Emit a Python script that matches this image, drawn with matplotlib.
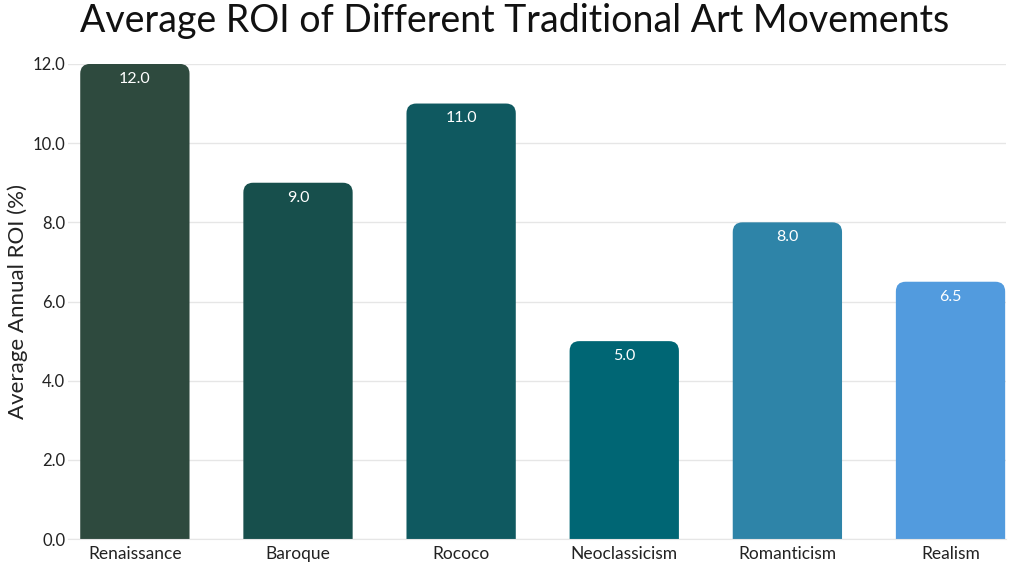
import matplotlib.pyplot as plt
from matplotlib.patches import FancyBboxPatch

plt.rcParams['font.family'] = ['Lato', 'DejaVu Sans']

movements = ["Renaissance", "Baroque", "Rococo", "Neoclassicism", "Romanticism", "Realism"]
roi = [12.0, 9.0, 11.0, 5.0, 8.0, 6.5]
colors = ["#2E4A3E", "#174F4C", "#0F5960", "#006674", "#2E84A8", "#529BDE"]
yticks = [0, 2, 4, 6, 8, 10, 12]

fig = plt.figure(figsize=(10.24, 5.76), dpi=100)
ax = fig.add_axes([0.0664, 0.064, 0.916, 0.825])

bars = ax.bar(range(len(movements)), roi, width=0.67, color=colors)
ax.set_xlim(-0.41, 5.34)
ax.set_ylim(0, 12)

# swap the plain bars for ones with rounded tops (bottom corners fall below 0 and get clipped)
fig.canvas.draw()
bbox = ax.get_window_extent()
px_per_x = bbox.width / (5.34 + 0.41)
px_per_y = bbox.height / 12
aspect = px_per_x / px_per_y
r = 0.06
for b, c in zip(bars, colors):
    b.set_visible(False)
    x, w, h = b.get_x(), b.get_width(), b.get_height()
    ax.add_patch(FancyBboxPatch((x, -1), w, h + 1, boxstyle=f"round,pad=0,rounding_size={r}",
                                mutation_aspect=aspect, facecolor=c, edgecolor="none", zorder=2))
    ax.text(x + w / 2, h - 0.2, f"{h:.1f}", ha="center", va="top", color="white",
            fontsize=11.5, zorder=3)

ax.set_yticks(yticks)
ax.set_yticklabels([f"{v:.1f}" for v in yticks])
ax.set_xticks(range(len(movements)))
ax.set_xticklabels(movements)
ax.tick_params(axis="x", length=0, labelsize=12.5, colors="#222222", pad=5)
ax.tick_params(axis="y", length=0, labelsize=12, colors="#222222", pad=2)
ax.yaxis.grid(True, color="#E6E6E6", linewidth=1)
ax.set_axisbelow(True)
for s in ["top", "right", "left"]:
    ax.spines[s].set_visible(False)
ax.spines["bottom"].set_color("#E6E6E6")

ax.set_ylabel("Average Annual ROI (%)", fontsize=16, color="#222222", labelpad=3)
fig.suptitle("Average ROI of Different Traditional Art Movements", fontsize=27,
             x=0.503, y=0.995, color="#111111")

fig.savefig("out.png", dpi=100)
